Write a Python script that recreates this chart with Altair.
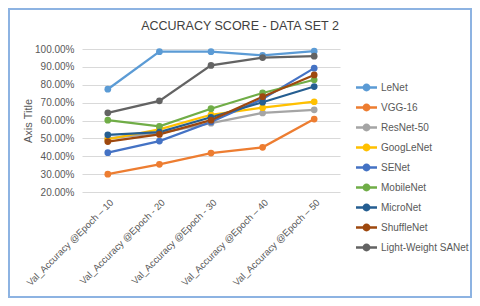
import altair as alt
import pandas as pd

epochs = ["Val_Accuracy @Epoch – 10", "Val_Accuracy @Epoch - 20", "Val_Accuracy @Epoch - 30",
          "Val_Accuracy @Epoch – 40", "Val_Accuracy @Epoch – 50"]
models = ["LeNet", "VGG-16", "ResNet-50", "GoogLeNet", "SENet", "MobileNet", "MicroNet",
          "ShuffleNet", "Light-Weight SANet"]
colors = ["#5B9BD5", "#ED7D31", "#A5A5A5", "#FFC000", "#4472C4", "#70AD47", "#255E91",
          "#9E480E", "#636363"]
title_text = "ACCURACY SCORE - DATA SET 2"

lenet = [0.775, 0.985, 0.985, 0.965, 0.988]
vgg16 = [0.300, 0.355, 0.418, 0.450, 0.608]
resnet50 = [0.500, 0.530, 0.585, 0.642, 0.660]
googlenet = [0.495, 0.550, 0.632, 0.672, 0.705]
senet = [0.420, 0.485, 0.592, 0.720, 0.893]
mobilenet = [0.602, 0.567, 0.666, 0.754, 0.828]
micronet = [0.520, 0.535, 0.618, 0.702, 0.790]
shufflenet = [0.482, 0.522, 0.602, 0.733, 0.855]
sanet = [0.643, 0.710, 0.908, 0.952, 0.960]

series = [lenet, vgg16, resnet50, googlenet, senet, mobilenet, micronet, shufflenet, sanet]
rows = []
for m, vals in zip(models, series):
    for e, v in zip(epochs, vals):
        rows.append({"model": m, "epoch": e, "value": v, "order": models.index(m)})
df = pd.DataFrame(rows)

FONT = "Liberation Sans"
TXT = "#595959"

color = alt.Color(
    "model:N",
    scale=alt.Scale(domain=models, range=colors),
    legend=alt.Legend(
        title=None, orient="none", legendX=277, legendY=31,
        symbolType="M-1.75,0H1.75M-0.45,0A0.45,0.45,0,1,1,0.45,0A0.45,0.45,0,1,1,-0.45,0Z",
        symbolSize=144, symbolStrokeWidth=2.5, rowPadding=3, labelOffset=7,
        labelFont=FONT, labelFontSize=10, labelColor=TXT, padding=0,
    ),
)

x = alt.X("epoch:N", sort=epochs, scale=alt.Scale(type="point", padding=0.5),
          axis=alt.Axis(title=None, labelAngle=-45, labelAlign="right", labelBaseline="top",
                        labelPadding=5, ticks=False, domain=False, grid=False,
                        labelFont=FONT, labelFontSize=9.5, labelColor=TXT, labelLimit=200))
y = alt.Y("value:Q", scale=alt.Scale(domain=[0.2, 1.0], nice=False, zero=False),
          axis=alt.Axis(title="Axis Title", format=".2%", values=[0.2, 0.3, 0.4, 0.5, 0.6, 0.7, 0.8, 0.9, 1.0],
                        ticks=False, domain=False, gridColor="#D9D9D9", gridWidth=1,
                        labelFont=FONT, labelFontSize=10, labelColor=TXT, labelPadding=8,
                        titleFont=FONT, titleFontSize=11, titleFontWeight="normal", titleColor=TXT,
                        titlePadding=1))

base = alt.Chart(df)
lines = base.mark_line(strokeWidth=2.25).encode(x=x, y=y, color=color, order="order:Q")
points = base.mark_point(filled=True, size=45, opacity=1).encode(
    x=x, y=y, color=alt.Color("model:N", scale=alt.Scale(domain=models, range=colors), legend=None))

one = pd.DataFrame({"t": [title_text]})
border = alt.Chart(one).mark_rect(
    fill=None, stroke="#8DB3E2", strokeWidth=2
).encode(x=alt.value(-73), x2=alt.value(389), y=alt.value(-40), y2=alt.value(248))

title = alt.Chart(one).mark_text(
    font=FONT, fontSize=12.5, color="#404040", align="center", baseline="middle"
).encode(text="t:N", x=alt.value(158), y=alt.value(-23))

chart = alt.layer(border, title, lines, points).properties(
    width=258, height=143,
    autosize=alt.AutoSizeParams(type="none"),
    padding={"left": 74, "top": 41, "right": 132, "bottom": 106},
    background="white",
).configure_view(stroke=None)

chart.save("out.html", embed_options={"renderer": "svg", "actions": False})
